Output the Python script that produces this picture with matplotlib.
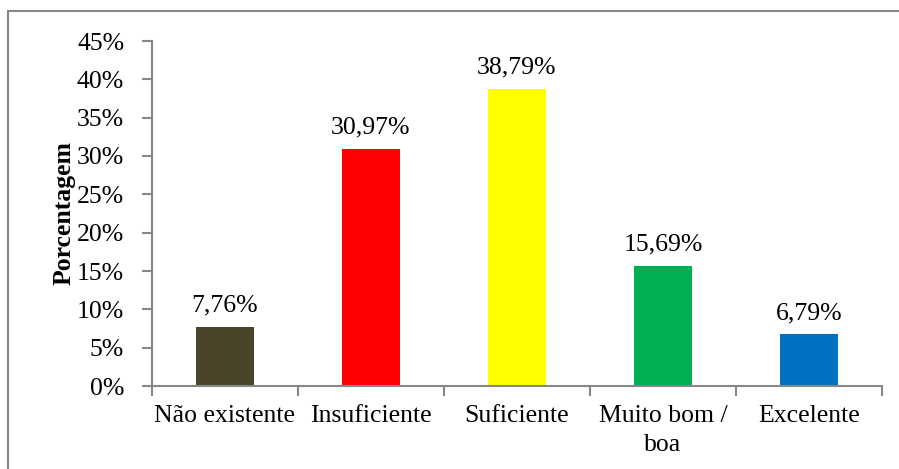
import matplotlib.pyplot as plt
from matplotlib.patches import Rectangle
from matplotlib.ticker import FuncFormatter

categorias = ["Não existente", "Insuficiente", "Suficiente", "Muito bom /\nboa", "Excelente"]
valores = [7.76, 30.97, 38.79, 15.69, 6.79]
cores = ["#4A442A", "#FF0000", "#FFFF00", "#00B050", "#0070C0"]
ticks_y = [0, 5, 10, 15, 20, 25, 30, 35, 40, 45]


def main():
    plt.rcParams['font.family'] = ['Liberation Serif', 'DejaVu Serif']
    cinza = "#878787"
    fs = 18.5

    fig = plt.figure(figsize=(8.99, 4.69), dpi=100)
    W, H = 899, 469
    ax = fig.add_axes([152 / W, 1 - 386 / H, 730 / W, 345 / H])

    # moldura da area do grafico
    fig.patches.append(Rectangle((8 / W, -0.05), 1.2, 1 - 11 / H + 0.05,
                                 transform=fig.transFigure, fill=False,
                                 edgecolor=cinza, linewidth=1.5))

    x = list(range(len(categorias)))
    ax.bar(x, valores, width=0.4, color=cores)
    for xi, v in zip(x, valores):
        ax.text(xi, v + 1.3, "{:.2f}%".format(v).replace(".", ","),
                ha='center', va='bottom', fontsize=fs)

    ax.set_xlim(-0.5, len(categorias) - 0.5)
    ax.set_ylim(0, 45)
    ax.set_yticks(ticks_y)
    ax.yaxis.set_major_formatter(FuncFormatter(lambda v, p: "{:.0f}%".format(v)))
    ax.set_xticks([i - 0.5 for i in range(len(categorias) + 1)])
    ax.set_xticklabels([])
    ax.set_xticks(x, minor=True)
    ax.set_xticklabels(categorias, minor=True, fontsize=fs, linespacing=1.4)
    ax.tick_params(axis='x', which='minor', length=0, pad=14)
    ax.tick_params(axis='x', which='major', length=7, color=cinza, width=1.5)
    ax.tick_params(axis='y', length=7, color=cinza, width=1.5, labelsize=fs, pad=13)

    for lado in ['top', 'right']:
        ax.spines[lado].set_visible(False)
    for lado in ['left', 'bottom']:
        ax.spines[lado].set_color(cinza)
        ax.spines[lado].set_linewidth(1.5)

    ax.set_ylabel("Porcentagem", fontsize=fs, fontweight='bold', labelpad=1)

    fig.savefig("out.png", dpi=100)


if __name__ == '__main__':
    main()
